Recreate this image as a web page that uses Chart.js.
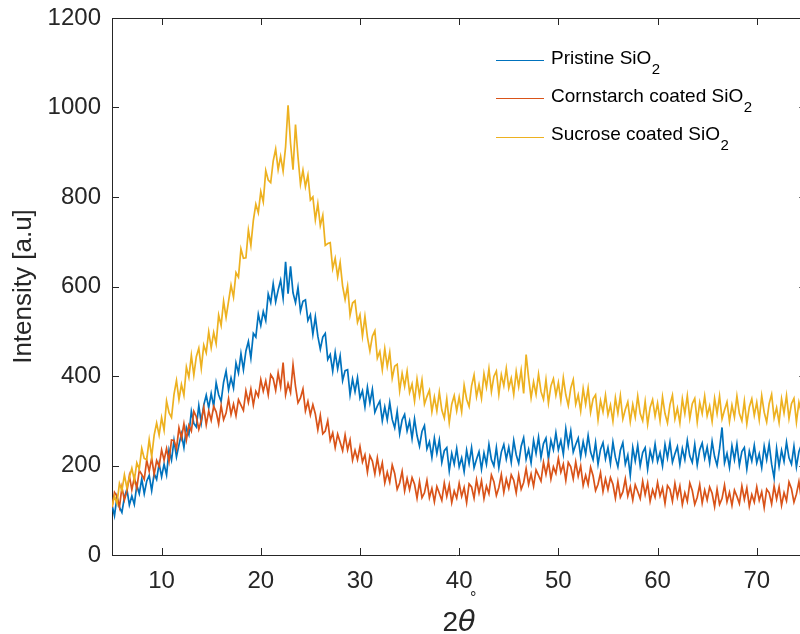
<!DOCTYPE html>
<html><head><meta charset="utf-8">
<script src="https://cdn.jsdelivr.net/npm/chart.js@4.4.1/dist/chart.umd.min.js"></script>
<style>
html,body{margin:0;padding:0;background:#fff;overflow:hidden;width:800px;height:634px}
#c{display:block}
</style>
</head><body><canvas id="c" width="800" height="634"></canvas>
<script>
// 2θ scan: 5° to 75°, step 0.25°
const scanStart = 5, scanStep = 0.25, scanCount = 281;
const twoTheta = [];
for (let i = 0; i < scanCount; i++) twoTheta.push(scanStart + i * scanStep);

const seriesNames = ['Pristine SiO', 'Cornstarch coated SiO', 'Sucrose coated SiO'];
const seriesSub = ['2', '2', '2'];
const seriesColors = ['#0072BD', '#D95319', '#EDB120'];

const xTicks = [10, 20, 30, 40, 50, 60, 70];
const yTicks = [0, 200, 400, 600, 800, 1000, 1200];
const xAxisEnd = 75;          // axis box ends at 75°, just past the visible edge
const xVisibleMax = 74.36;    // visible part of the axis in the cropped figure

const pristine = [
112,88,130,107, 95,129,147,112, 132,113,156,137, 170,137,165,178, 144,182,169,204,
175,203,179,235, 212,256,219,246, 271,240,285,269, 321,294,286,334, 295,335,357,329,
361,332,385,358, 343,386,411,369, 396,373,429,407, 450,414,456,477, 440,495,487,538,
513,544,524,583, 564,606,566,592, 614,574,655,584, 645,586,564,598, 545,567,570,524,
537,493,532,489, 460,487,495,437, 448,411,453,416, 445,390,412,414, 358,393,365,396,
351,367,331,375, 340,370,319,333, 344,300,331,302, 341,303,284,321, 271,302,314,277,
299,260,304,267, 243,276,289,237, 253,218,261,227, 257,207,233,240, 188,227,203,238,
197,217,186,234, 204,240,195,214, 231,192,228,203, 247,213,199,240, 195,230,247,214,
241,207,256,224, 205,243,262,214, 236,206,256,227, 263,218,249,261, 214,256,235,273,
235,256,225,282, 244,277,230,247, 261,219,253,226, 267,230,213,251, 203,236,251,215,
240,204,252,218, 197,234,251,203, 223,178,240,210, 245,199,229,240, 192,233,211,248,
209,229,199,247, 217,252,207,226, 242,202,238,213, 256,221,207,247, 201,235,250,216,
241,206,254,220, 200,237,285,206, 227,196,244,213, 248,201,231,240, 192,232,210,245,
206,226,195,243, 213,248,203,172, 238,198,234,209, 252,217,203,243, 197,231,247,213,
239];

const cornstarch = [
106,140,131,107, 151,123,142,177, 146,173,149,189, 180,169,212,187, 217,180,211,198,
235,212,238,209, 257,256,237,284, 261,293,257,290, 277,321,309,281, 301,330,291,322,
301,332,320,293, 334,302,317,349, 314,337,311,347, 335,323,367,341, 371,335,366,354,
392,366,389,358, 403,394,368,407, 376,430,358,383, 363,425,377,340, 351,371,322,343,
313,336,315,280, 312,271,277,300, 256,273,240,270, 252,233,268,235, 257,212,234,213,
242,208,224,185, 222,210,181,217, 183,206,161,185, 163,201,182,147, 161,187,143,171,
146,173,158,127, 164,128,139,167, 128,149,119,153, 138,122,161,131, 157,117,143,127,
160,131,151,117, 159,152,127,168, 139,166,126,154, 137,179,164,133, 151,180,140,170,
149,179,167,139, 179,147,162,193, 158,181,154,190, 178,165,207,180, 209,170,197,182,
216,185,203,167, 207,197,170,208, 176,199,155,178, 157,196,177,144, 158,184,142,170,
146,173,158,127, 164,129,141,170, 132,153,123,157, 142,126,165,135, 161,120,146,129,
162,132,150,115, 155,147,120,160, 129,154,113,139, 120,161,144,113, 129,157,116,145,
123,152,138,108, 147,113,126,156, 119,140,111,145, 131,115,154,124, 150,109,135,118,
152,122,141,106, 147,139,114,154, 125,152,111,139, 121,163,148,118, 136,164,124,154,
133];

const sucrose = [
108,132,115,160, 144,179,150,173, 194,167,206,192, 238,216,213,258, 220,268,295,268,
307,279,344,318, 307,359,390,347, 381,357,420,397, 446,402,443,462, 417,469,452,499,
463,497,472,536, 513,567,531,567, 603,576,631,621, 684,663,664,726, 692,748,784,765,
812,789,859,838, 832,880,907,861, 891,858,912,1005, 920,861,962,890, 829,860,823,849,
793,800,749,785, 736,759,692,696, 698,640,663,622, 654,601,571,601, 536,563,568,520,
537,489,533,487, 456,489,501,440, 455,414,461,421, 453,395,422,426, 367,406,377,411,
363,382,344,393, 356,391,337,354, 368,320,353,322, 364,324,306,349, 296,337,356,322,
353,320,379,348, 332,378,402,354, 381,350,405,375, 416,365,399,411, 359,403,378,417,
373,395,359,410, 376,413,361,448, 396,351,387,359, 404,365,348,392, 340,378,394,357,
385,345,396,358, 334,373,392,337, 358,322,372,337, 373,319,349,358, 302,345,320,357,
313,335,299,351, 317,356,304,325, 342,298,336,308, 355,316,300,343, 292,330,347,310,
339,300,353,316, 295,336,357,304, 328,295,349,316, 356,305,338,350, 297,341,316,355,
311,333,298,350, 316,355,304,324, 342,298,335,308, 355,316,300,344, 293,331,349,312,
341,302,356,319, 297,338,359,306, 329,296,349,317, 356,305,338,350, 297,341,317,356,
313];

const FONT = '"Liberation Sans", Arial, Helvetica, sans-serif';
const AXIS = '#262626';

function pts(vals) { return vals.map((v, i) => ({ x: twoTheta[i], y: v })); }

const allSeries = [pristine, cornstarch, sucrose];
const datasets = allSeries.map((vals, k) => ({
  label: seriesNames[k] + seriesSub[k],
  data: pts(vals),
  borderColor: seriesColors[k],
  backgroundColor: seriesColors[k],
  borderWidth: 1.7,
  borderJoinStyle: 'miter',
  pointRadius: 0,
  tension: 0,
  fill: false,
  order: 3 - k
}));

const axesPlugin = {
  id: 'matlabAxes',
  afterDatasetsDraw(chart) {
    const ctx = chart.ctx, ca = chart.chartArea;
    const xs = chart.scales.x, ys = chart.scales.y;
    const L = 7;
    const rightEdge = ca.left + (xAxisEnd - xs.min) / (xs.max - xs.min) * (ca.right - ca.left);
    ctx.save();
    ctx.strokeStyle = AXIS; ctx.lineWidth = 1;
    ctx.beginPath();
    ctx.moveTo(ca.left, Math.round(ca.top) + 0.5); ctx.lineTo(chart.width, Math.round(ca.top) + 0.5);
    xTicks.forEach(v => {
      const p = Math.round(xs.getPixelForValue(v)) + 0.5;
      ctx.moveTo(p, ca.bottom); ctx.lineTo(p, ca.bottom - L);
      ctx.moveTo(p, ca.top); ctx.lineTo(p, ca.top + L);
    });
    yTicks.forEach(v => {
      const p = Math.round(ys.getPixelForValue(v)) + 0.5;
      ctx.moveTo(ca.left, p); ctx.lineTo(ca.left + L, p);
      ctx.moveTo(rightEdge, p); ctx.lineTo(rightEdge - L, p);
    });
    ctx.stroke();
    ctx.restore();
  },
  afterDraw(chart) {
    const ctx = chart.ctx, ca = chart.chartArea;
    const xs = chart.scales.x;
    const rightEdge = ca.left + (xAxisEnd - xs.min) / (xs.max - xs.min) * (ca.right - ca.left);
    ctx.save();
    // x axis title: 2θ°
    const cx = (ca.left + rightEdge) / 2;
    const base = 631;
    const fN = '28px ' + FONT, fI = 'italic 29px "DejaVu Sans", ' + FONT, fS = '16px ' + FONT;
    ctx.fillStyle = AXIS;
    ctx.textBaseline = 'alphabetic'; ctx.textAlign = 'left';
    ctx.font = fN; const w1 = ctx.measureText('2').width;
    ctx.font = fI; const w2 = ctx.measureText('θ').width;
    ctx.font = fS; const w3 = ctx.measureText('°').width;
    let x = cx - (w1 + w2) / 2;
    ctx.font = fN; ctx.fillText('2', x, base); x += w1;
    ctx.font = fI; ctx.fillText('θ', x, base); x += w2;
    ctx.font = fS; ctx.fillText('°', x - w3 * 0.9, base - 28);

    // legend
    const rowY = [60, 98, 136.5];
    seriesNames.forEach((name, k) => {
      const y = rowY[k];
      ctx.strokeStyle = seriesColors[k]; ctx.lineWidth = 1;
      ctx.beginPath(); ctx.moveTo(496, Math.round(y) + 0.5); ctx.lineTo(544, Math.round(y) + 0.5); ctx.stroke();
      ctx.fillStyle = '#000';
      ctx.font = '19px ' + FONT;
      ctx.fillText(name, 551, y + 3.5);
      const w = ctx.measureText(name).width;
      ctx.font = '15px ' + FONT;
      ctx.fillText(seriesSub[k], 551 + w + 0.5, y + 13.5);
    });
    ctx.restore();
  }
};

function zeroPad(s) { s.paddingTop = 0; s.paddingBottom = 0; s.paddingLeft = 0; s.paddingRight = 0; }

new Chart(document.getElementById('c').getContext('2d'), {
  type: 'line',
  data: { datasets },
  options: {
    responsive: false,
    animation: false,
    devicePixelRatio: 1,
    layout: { padding: { top: 18, right: 0, left: 0, bottom: 0 } },
    plugins: { legend: { display: false }, tooltip: { enabled: false } },
    scales: {
      x: {
        type: 'linear', min: 5, max: xVisibleMax,
        grid: { display: false, drawTicks: false },
        border: { display: true, color: AXIS, width: 1 },
        afterBuildTicks(s) { s.ticks = xTicks.map(v => ({ value: v })); },
        ticks: { color: AXIS, font: { family: FONT, size: 24 }, padding: 12, maxRotation: 0, autoSkip: false, callback: v => String(v) },
        afterFit(s) { s.height = 79; zeroPad(s); }
      },
      y: {
        type: 'linear', min: 0, max: 1200,
        grid: { display: false, drawTicks: false },
        border: { display: true, color: AXIS, width: 1 },
        afterBuildTicks(s) { s.ticks = yTicks.map(v => ({ value: v })); },
        ticks: { color: AXIS, font: { family: FONT, size: 24 }, padding: 11, autoSkip: false, callback: v => String(v) },
        title: { display: true, text: 'Intensity [a.u]', color: AXIS, font: { family: FONT, size: 26 }, padding: { top: 8, bottom: 0 } },
        afterFit(s) { s.width = 112; zeroPad(s); }
      }
    }
  },
  plugins: [axesPlugin]
});
</script>
</body></html>
